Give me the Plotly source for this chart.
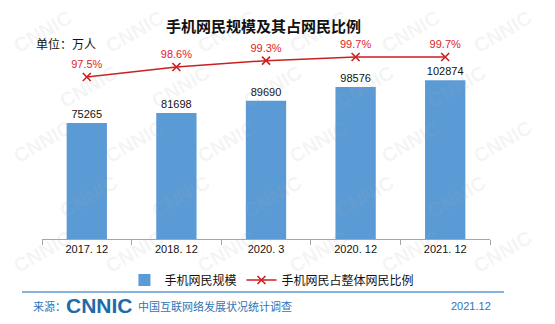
import plotly.graph_objects as go

# Mobile internet users (10k persons) and share of all internet users
periods = ["2017. 12", "2018. 12", "2020. 3", "2020. 12", "2021. 12"]
mobile_users = [75265, 81698, 89690, 98576, 102874]
mobile_share = [97.5, 98.6, 99.3, 99.7, 99.7]

W, H = 555, 324
CJK = "Noto Sans CJK SC"
LAT = "Liberation Sans, Arial, sans-serif"
BLUE = "#5b9bd5"
RED = "#cc1f1f"


def py(pix):
    """pixel row -> paper y"""
    return (H - pix) / H


def px(pix):
    return pix / W


def label(x, y, text, font, xanchor="center"):
    fig.add_annotation(x=px(x), y=py(y), xref="paper", yref="paper", showarrow=False,
                       xanchor=xanchor, yanchor="middle", text=text, font=font)


fig = go.Figure()

# faint diagonal watermark
for row in range(6):
    for col in range(6):
        x0 = 42 + col * 92 + (row % 2) * 46
        y0 = 32 + row * 55
        if x0 > W - 38 or y0 > H - 25:
            continue
        fig.add_annotation(
            x=px(x0), y=py(y0), xref="paper", yref="paper", showarrow=False,
            xanchor="center", yanchor="middle",
            text="<b>CNNIC</b>", textangle=-30,
            font=dict(family=LAT, size=20, color="rgba(170,170,170,0.12)"),
        )

fig.add_trace(go.Bar(
    x=periods, y=mobile_users, name="手机网民规模",
    marker=dict(color=BLUE, line=dict(width=0)),
    width=0.45,
    text=[str(v) for v in mobile_users], textposition="outside",
    textfont=dict(family=LAT, size=11, color="#111111"),
    cliponaxis=False,
))

fig.add_trace(go.Scatter(
    x=periods, y=mobile_share, name="手机网民占整体网民比例",
    yaxis="y2", mode="lines+markers+text",
    line=dict(color=RED, width=1.5),
    marker=dict(symbol="x-thin", size=8, line=dict(color=RED, width=1.6), color=RED),
    text=[f"{v}%" for v in mobile_share], textposition="top center",
    textfont=dict(family=LAT, size=11, color="#e02424"),
    cliponaxis=False,
))

label(263, 25, "<b>手机网民规模及其占网民比例</b>",
      dict(family=CJK, size=15, color="#111111"))
label(34, 43, "单位：万人", dict(family=CJK, size=12, color="#111111"), "left")

# footer
fig.add_shape(type="line", xref="paper", yref="paper",
              x0=px(22), x1=px(504), y0=py(292), y1=py(292),
              line=dict(color="#5b9bd5", width=1.5))
label(31, 306, "来源：", dict(family=CJK, size=11, color="#2e75b6"), "left")
label(64, 305, "<b>CNNIC</b>", dict(family=LAT, size=21, color="#1f6aa8"), "left")
label(136, 306, "中国互联网络发展状况统计调查",
      dict(family=CJK, size=11, color="#2e75b6"), "left")
label(493, 306, "2021.12", dict(family=LAT, size=11, color="#2e75b6"), "right")

fig.update_layout(
    width=W, height=H, margin=dict(l=0, r=0, t=0, b=0),
    paper_bgcolor="white", plot_bgcolor="rgba(0,0,0,0)",
    font=dict(family=CJK, size=11, color="#111111"),
    xaxis=dict(domain=[px(42), px(490)], range=[-0.5, 4.5],
               showline=True, linecolor="#a6a6a6", linewidth=1,
               ticks="outside", tickson="boundaries", ticklen=5, tickcolor="#a6a6a6",
               tickfont=dict(family=LAT, size=11, color="#111111"),
               showgrid=False, zeroline=False),
    yaxis=dict(domain=[py(239), py(40)], range=[0, 129000],
               visible=False, showgrid=False, zeroline=False),
    yaxis2=dict(overlaying="y", range=[79.68, 101.57], visible=False,
                showgrid=False, zeroline=False),
    showlegend=True,
    legend=dict(orientation="h", x=0.49, xanchor="center", y=py(280), yanchor="middle",
                font=dict(family=CJK, size=12, color="#111111"),
                bgcolor="rgba(0,0,0,0)", itemwidth=30, tracegroupgap=0),
)

fig.write_html("out.html")
